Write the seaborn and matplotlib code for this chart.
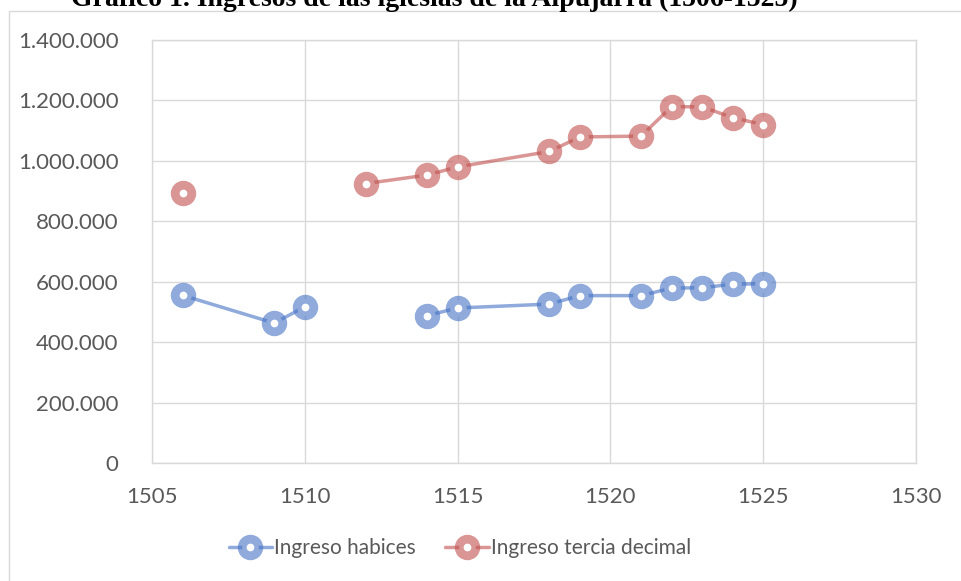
import numpy as np
import pandas as pd
import seaborn as sns
import matplotlib
matplotlib.use("Agg")
import matplotlib.pyplot as plt
from matplotlib.lines import Line2D
from matplotlib.patches import Rectangle
from matplotlib.ticker import FuncFormatter
from matplotlib.colors import to_rgba

# ---- data ----
years = [1506, 1509, 1510, 1512, 1514, 1515, 1518, 1519, 1521, 1522, 1523, 1524, 1525]
habices = [555000, 463000, 517000, np.nan, 488000, 513000, 526000, 554000, 554000, 579000, 580000, 592000, 593000]
tercia = [895000, np.nan, np.nan, 925000, 953000, 980000, 1031000, 1079000, 1082000, 1179000, 1179000, 1143000, 1120000]
series_names = ["Ingreso habices", "Ingreso tercia decimal"]
title = "Gráfico 1. Ingresos de las iglesias de la Alpujarra (1506-1525)"
x_ticks = [1505, 1510, 1515, 1520, 1525, 1530]
y_ticks = [0, 200000, 400000, 600000, 800000, 1000000, 1200000, 1400000]

base_colors = ["#4472C4", "#C0504D"]
ALPHA = 0.6
MS, MEW, LW = 12.0, 6.3, 2.5

sns.set_theme(style="white")
plt.rcParams["font.family"] = ["Lato", "DejaVu Sans"]

W, H = 961, 581
fig = plt.figure(figsize=(W / 100, H / 100), dpi=100)
ax = fig.add_axes([152 / W, 1 - 463 / H, (916 - 152) / W, (463 - 40) / H])

def segments(vals):
    seg, ids, prev_nan = 0, [], True
    for v in vals:
        if np.isnan(v):
            ids.append(-1)
            prev_nan = True
        else:
            if prev_nan:
                seg += 1
            ids.append(seg)
            prev_nan = False
    return ids

rows = []
for name, vals in zip(series_names, [habices, tercia]):
    for yr, v, s in zip(years, vals, segments(vals)):
        if not np.isnan(v):
            rows.append({"year": yr, "value": v, "series": name, "seg": f"{name}-{s}"})
df = pd.DataFrame(rows)

for name, col in zip(series_names, base_colors):
    sub = df[df["series"] == name]
    rgba = to_rgba(col, ALPHA)
    sns.lineplot(data=sub, x="year", y="value", units="seg", estimator=None,
                 ax=ax, color=rgba, linewidth=LW, marker="o",
                 markersize=MS, markeredgewidth=MEW,
                 markerfacecolor="white", markeredgecolor=rgba,
                 legend=False, zorder=3)

ax.set_xlim(1505, 1530)
ax.set_ylim(0, 1400000)
ax.set_xticks(x_ticks)
ax.set_yticks(y_ticks)
ax.yaxis.set_major_formatter(FuncFormatter(lambda v, p: f"{int(v):,}".replace(",", ".")))
ax.grid(True, color="#D9D9D9", linewidth=1.0)
ax.set_axisbelow(True)
for sp in ax.spines.values():
    sp.set_color("#D9D9D9")
    sp.set_linewidth(1.0)
ax.tick_params(axis="both", length=0, labelsize=16, labelcolor="#595959")
ax.tick_params(axis="y", pad=24)
ax.tick_params(axis="x", pad=17)
ax.set_xlabel("")
ax.set_ylabel("")

# outer chart frame (partially cropped)
fig.patches.append(Rectangle((9 / W, -0.1), 1.2, 1 - 11 / H + 0.1, transform=fig.transFigure,
                             fill=False, edgecolor="#D9D9D9", linewidth=1.0, zorder=0))

fig.text(434 / W, 1 - 5.5 / H, title, ha="center", va="baseline",
         family=["Liberation Serif"], fontweight="bold", fontsize=20, color="black")

handles = [Line2D([0], [0], color=to_rgba(c, ALPHA), linewidth=LW, marker="o",
                  markersize=MS, markeredgewidth=MEW, markerfacecolor="white",
                  markeredgecolor=to_rgba(c, ALPHA)) for c in base_colors]
fig.legend(handles, series_names, loc="center", bbox_to_anchor=(460 / W, 1 - 548 / H),
           ncol=2, frameon=False, fontsize=15, labelcolor="#595959",
           handlelength=2.1, handletextpad=0.1, columnspacing=1.4)

fig.savefig("out.png", dpi=100)
